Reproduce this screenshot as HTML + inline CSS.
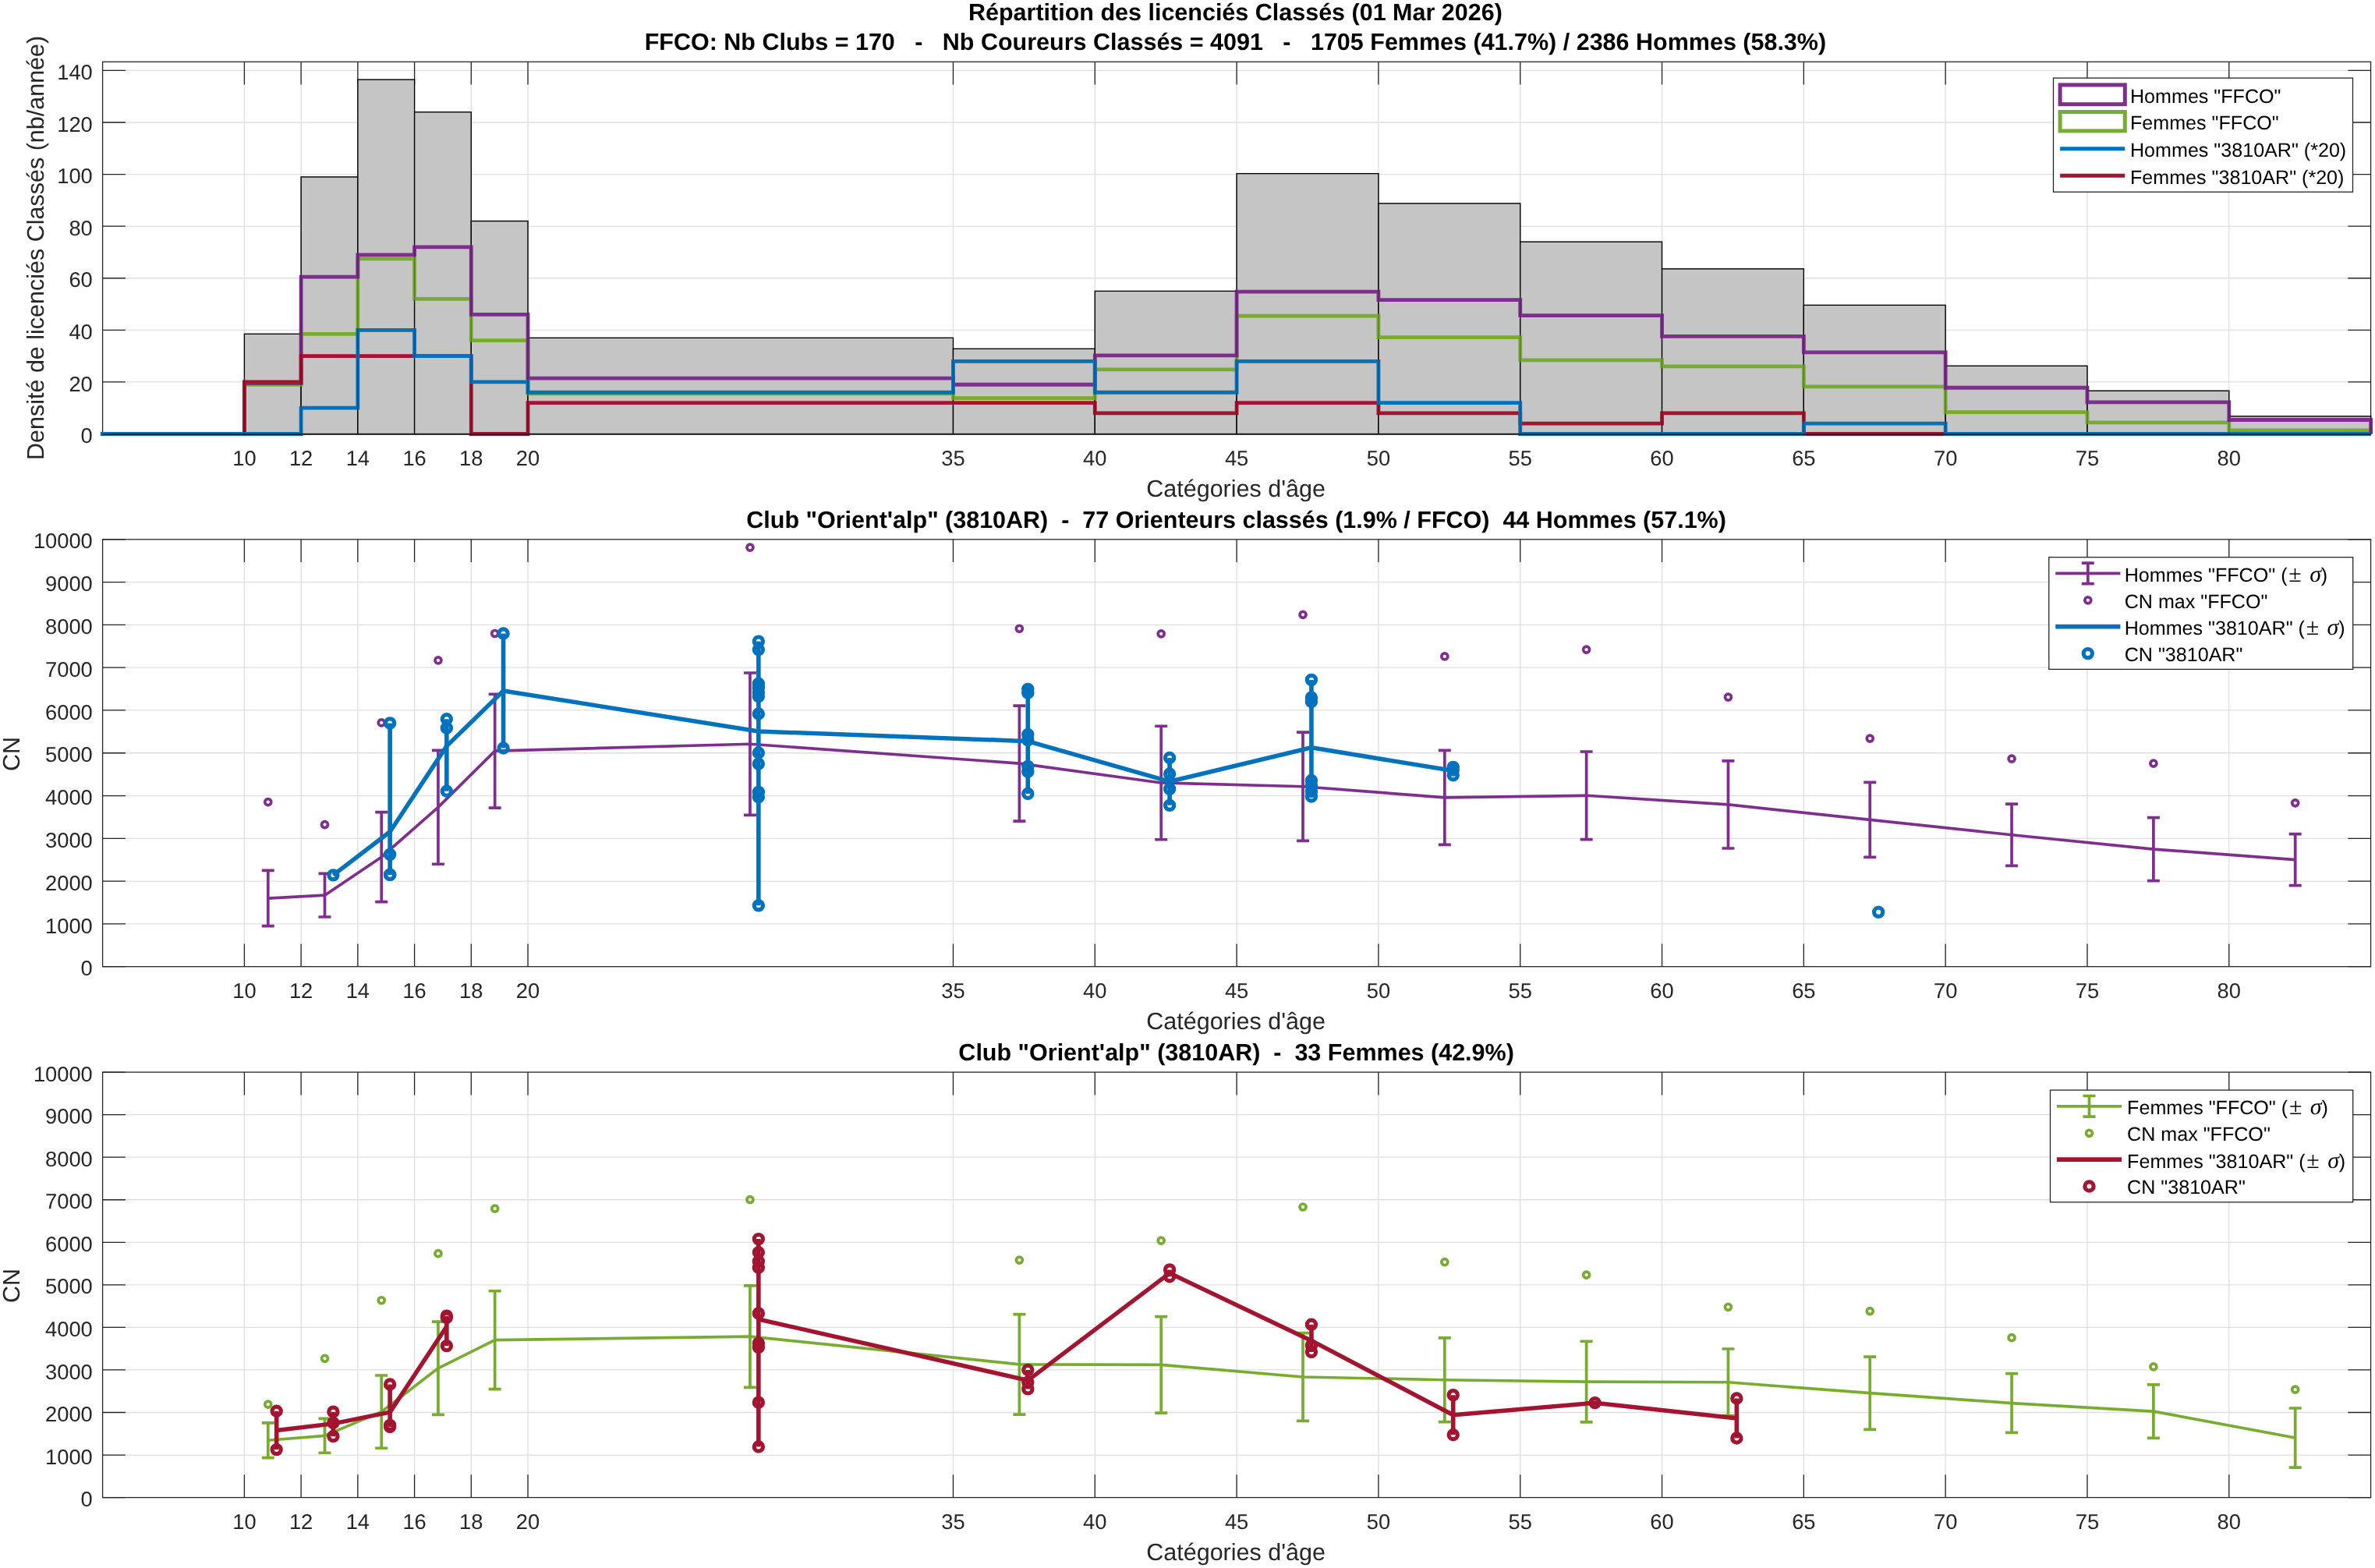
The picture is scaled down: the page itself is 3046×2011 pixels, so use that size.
<!DOCTYPE html>
<html><head><meta charset="utf-8"><title>Répartition des licenciés Classés</title>
<style>html,body{margin:0;padding:0;background:#fff}svg{display:block;font-family:"Liberation Sans",sans-serif;will-change:transform;text-rendering:geometricPrecision}</style>
</head><body>
<svg width="3046" height="2011" viewBox="0 0 3046 2011">
<rect width="3046" height="2011" fill="#fff"/>
<!-- plot 1 -->
<path d="M313.41 79.3V556.5M386.14 79.3V556.5M458.86 79.3V556.5M531.59 79.3V556.5M604.31 79.3V556.5M677.04 79.3V556.5M1222.47 79.3V556.5M1404.29 79.3V556.5M1586.1 79.3V556.5M1767.91 79.3V556.5M1949.72 79.3V556.5M2131.54 79.3V556.5M2313.35 79.3V556.5M2495.16 79.3V556.5M2676.97 79.3V556.5M2858.79 79.3V556.5M131.6 489.92H3040.6M131.6 423.34H3040.6M131.6 356.76H3040.6M131.6 290.18H3040.6M131.6 223.6H3040.6M131.6 157.02H3040.6M131.6 90.44H3040.6" stroke="#dfdfdf" stroke-width="1.3" fill="none"/>
<path d="M313.41 556.5v-29.3M313.41 79.3v29.3M386.14 556.5v-29.3M386.14 79.3v29.3M458.86 556.5v-29.3M458.86 79.3v29.3M531.59 556.5v-29.3M531.59 79.3v29.3M604.31 556.5v-29.3M604.31 79.3v29.3M677.04 556.5v-29.3M677.04 79.3v29.3M1222.47 556.5v-29.3M1222.47 79.3v29.3M1404.29 556.5v-29.3M1404.29 79.3v29.3M1586.1 556.5v-29.3M1586.1 79.3v29.3M1767.91 556.5v-29.3M1767.91 79.3v29.3M1949.72 556.5v-29.3M1949.72 79.3v29.3M2131.54 556.5v-29.3M2131.54 79.3v29.3M2313.35 556.5v-29.3M2313.35 79.3v29.3M2495.16 556.5v-29.3M2495.16 79.3v29.3M2676.97 556.5v-29.3M2676.97 79.3v29.3M2858.79 556.5v-29.3M2858.79 79.3v29.3M131.6 556.5h29.3M3040.6 556.5h-29.3M131.6 489.92h29.3M3040.6 489.92h-29.3M131.6 423.34h29.3M3040.6 423.34h-29.3M131.6 356.76h29.3M3040.6 356.76h-29.3M131.6 290.18h29.3M3040.6 290.18h-29.3M131.6 223.6h29.3M3040.6 223.6h-29.3M131.6 157.02h29.3M3040.6 157.02h-29.3M131.6 90.44h29.3M3040.6 90.44h-29.3" stroke="#262626" stroke-width="1.3" fill="none"/>
<rect x="131.6" y="79.3" width="2909" height="477.2" stroke="#262626" stroke-width="1.3" fill="none"/>
<rect x="313.41" y="428.33" width="72.72" height="128.17" fill="#c5c5c5" stroke="#000" stroke-width="1.3"/>
<rect x="386.14" y="226.93" width="72.72" height="329.57" fill="#c5c5c5" stroke="#000" stroke-width="1.3"/>
<rect x="458.86" y="102.09" width="72.73" height="454.41" fill="#c5c5c5" stroke="#000" stroke-width="1.3"/>
<rect x="531.59" y="143.7" width="72.73" height="412.8" fill="#c5c5c5" stroke="#000" stroke-width="1.3"/>
<rect x="604.31" y="283.52" width="72.73" height="272.98" fill="#c5c5c5" stroke="#000" stroke-width="1.3"/>
<rect x="677.04" y="433.33" width="545.44" height="123.17" fill="#c5c5c5" stroke="#000" stroke-width="1.3"/>
<rect x="1222.47" y="447.31" width="181.81" height="109.19" fill="#c5c5c5" stroke="#000" stroke-width="1.3"/>
<rect x="1404.29" y="373.4" width="181.81" height="183.1" fill="#c5c5c5" stroke="#000" stroke-width="1.3"/>
<rect x="1586.1" y="222.6" width="181.81" height="333.9" fill="#c5c5c5" stroke="#000" stroke-width="1.3"/>
<rect x="1767.91" y="260.88" width="181.81" height="295.62" fill="#c5c5c5" stroke="#000" stroke-width="1.3"/>
<rect x="1949.72" y="310.15" width="181.81" height="246.35" fill="#c5c5c5" stroke="#000" stroke-width="1.3"/>
<rect x="2131.54" y="344.78" width="181.81" height="211.72" fill="#c5c5c5" stroke="#000" stroke-width="1.3"/>
<rect x="2313.35" y="391.38" width="181.81" height="165.12" fill="#c5c5c5" stroke="#000" stroke-width="1.3"/>
<rect x="2495.16" y="469.28" width="181.81" height="87.22" fill="#c5c5c5" stroke="#000" stroke-width="1.3"/>
<rect x="2676.97" y="501.24" width="181.81" height="55.26" fill="#c5c5c5" stroke="#000" stroke-width="1.3"/>
<rect x="2858.79" y="533.86" width="181.81" height="22.64" fill="#c5c5c5" stroke="#000" stroke-width="1.3"/>
<path d="M129.2 556.5H313.41V493.25H386.14V428.33H458.86V331.79H531.59V383.39H604.31V436.66H677.04V504.8H1222.47V510.56H1404.29V473.94H1586.1V405.03H1767.91V432.66H1949.72V461.96H2131.54V469.95H2313.35V495.91H2495.16V528.54H2676.97V541.85H2858.79V551.84H3040.6V556.5" stroke="#77AC30" stroke-width="4.8" fill="none" stroke-linejoin="miter" stroke-linecap="butt"/>
<path d="M129.2 556.5H313.41V491.58H386.14V355.1H458.86V326.8H531.59V316.81H604.31V403.37H677.04V485.03H1222.47V493.25H1404.29V455.96H1586.1V374.07H1767.91V384.72H1949.72V404.7H2131.54V431.33H2313.35V451.97H2495.16V497.24H2676.97V515.89H2858.79V538.52H3040.6V556.5" stroke="#7E2F8E" stroke-width="4.8" fill="none" stroke-linejoin="miter" stroke-linecap="butt"/>
<path d="M129.2 556.5H313.41V489.92H386.14V456.63H458.86V456.63H531.59V456.63H604.31V556.5H677.04V516.55H1222.47V516.55H1404.29V529.87H1586.1V516.55H1767.91V529.87H1949.72V543.18H2131.54V529.87H2313.35V556.5H2495.16V556.5H2676.97V556.5H2858.79V556.5H3040.6V556.5" stroke="#A2142F" stroke-width="4.8" fill="none" stroke-linejoin="miter" stroke-linecap="butt"/>
<path d="M129.2 556.5H313.41V556.5H386.14V523.21H458.86V423.34H531.59V456.63H604.31V489.92H677.04V503.24H1222.47V463.29H1404.29V503.24H1586.1V463.29H1767.91V516.55H1949.72V556.5H2131.54V556.5H2313.35V543.18H2495.16V556.5H2676.97V556.5H2858.79V556.5H3040.6V556.5" stroke="#0072BD" stroke-width="4.8" fill="none" stroke-linejoin="miter" stroke-linecap="butt"/>
<path d="M313.41 556.5V428.33H386.14V556.5M386.14 556.5V226.93H458.86V556.5M458.86 556.5V102.09H531.59V556.5M531.59 556.5V143.7H604.31V556.5M604.31 556.5V283.52H677.04V556.5M677.04 556.5V433.33H1222.47V556.5M1222.47 556.5V447.31H1404.29V556.5M1404.29 556.5V373.4H1586.1V556.5M1586.1 556.5V222.6H1767.91V556.5M1767.91 556.5V260.88H1949.72V556.5M1949.72 556.5V310.15H2131.54V556.5M2131.54 556.5V344.78H2313.35V556.5M2313.35 556.5V391.38H2495.16V556.5M2495.16 556.5V469.28H2676.97V556.5M2676.97 556.5V501.24H2858.79V556.5M2858.79 556.5V533.86H3040.6V556.5" fill="none" stroke="#000" stroke-width="1.3" opacity="0.3"/>
<path d="M131.6 556.9H3040.6" stroke="#1a1a1a" stroke-width="2" opacity="0.75"/>
<g font-size="27.3" fill="#262626">
<text x="313.41" y="597" text-anchor="middle">10</text>
<text x="386.14" y="597" text-anchor="middle">12</text>
<text x="458.86" y="597" text-anchor="middle">14</text>
<text x="531.59" y="597" text-anchor="middle">16</text>
<text x="604.31" y="597" text-anchor="middle">18</text>
<text x="677.04" y="597" text-anchor="middle">20</text>
<text x="1222.47" y="597" text-anchor="middle">35</text>
<text x="1404.29" y="597" text-anchor="middle">40</text>
<text x="1586.1" y="597" text-anchor="middle">45</text>
<text x="1767.91" y="597" text-anchor="middle">50</text>
<text x="1949.72" y="597" text-anchor="middle">55</text>
<text x="2131.54" y="597" text-anchor="middle">60</text>
<text x="2313.35" y="597" text-anchor="middle">65</text>
<text x="2495.16" y="597" text-anchor="middle">70</text>
<text x="2676.97" y="597" text-anchor="middle">75</text>
<text x="2858.79" y="597" text-anchor="middle">80</text>
<text x="118.8" y="568.1" text-anchor="end">0</text>
<text x="118.8" y="501.52" text-anchor="end">20</text>
<text x="118.8" y="434.94" text-anchor="end">40</text>
<text x="118.8" y="368.36" text-anchor="end">60</text>
<text x="118.8" y="301.78" text-anchor="end">80</text>
<text x="118.8" y="235.2" text-anchor="end">100</text>
<text x="118.8" y="168.62" text-anchor="end">120</text>
<text x="118.8" y="102.04" text-anchor="end">140</text>
</g>
<text x="1585.1" y="637" text-anchor="middle" font-size="30.5" fill="#262626">Catégories d'âge</text>
<text transform="translate(56.3 317.9) rotate(-90)" text-anchor="middle" font-size="30.5" fill="#262626">Densité de licenciés Classés (nb/année)</text>
<g font-size="30.5" font-weight="bold" fill="#000" text-anchor="middle">
<text x="1586.1" y="26.3" dx="-1.7">Répartition des licenciés Classés (01 Mar 2026)</text>
<text x="1586.1" y="64.2" dx="-1.7" xml:space="preserve">FFCO: Nb Clubs = 170   -   Nb Coureurs Classés = 4091   -   1705 Femmes (41.7%) / 2386 Hommes (58.3%)</text>
<text x="1586.1" y="677" dx="-0.5" xml:space="preserve">Club "Orient'alp" (3810AR)  -  77 Orienteurs classés (1.9% / FFCO)  44 Hommes (57.1%)</text>
<text x="1586.1" y="1360.4" dx="-0.5" xml:space="preserve">Club "Orient'alp" (3810AR)  -  33 Femmes (42.9%)</text>
</g>
<rect x="2633.5" y="100.1" width="384" height="146.1" fill="#fff" stroke="#262626" stroke-width="1.3"/>
<rect x="2642.1" y="108.9" width="83.2" height="24.8" fill="none" stroke="#7E2F8E" stroke-width="5"/>
<rect x="2642.1" y="143.5" width="83.2" height="24.4" fill="none" stroke="#77AC30" stroke-width="5"/>
<path d="M2642.1 190.7H2725.3" stroke="#0072BD" stroke-width="5"/>
<path d="M2642.1 225.2H2725.3" stroke="#A2142F" stroke-width="5"/>
<g font-size="25.1" fill="#000">
<text x="2732" y="131.8">Hommes "FFCO"</text>
<text x="2732" y="165.7">Femmes "FFCO"</text>
<text x="2732" y="200.9">Hommes "3810AR" (*20)</text>
<text x="2732" y="235.6">Femmes "3810AR" (*20)</text>
</g>
<!-- plot 2 -->
<path d="M313.41 691.8V1239.7M386.14 691.8V1239.7M458.86 691.8V1239.7M531.59 691.8V1239.7M604.31 691.8V1239.7M677.04 691.8V1239.7M1222.47 691.8V1239.7M1404.29 691.8V1239.7M1586.1 691.8V1239.7M1767.91 691.8V1239.7M1949.72 691.8V1239.7M2131.54 691.8V1239.7M2313.35 691.8V1239.7M2495.16 691.8V1239.7M2676.97 691.8V1239.7M2858.79 691.8V1239.7M131.6 1184.91H3040.6M131.6 1130.12H3040.6M131.6 1075.33H3040.6M131.6 1020.54H3040.6M131.6 965.75H3040.6M131.6 910.96H3040.6M131.6 856.17H3040.6M131.6 801.38H3040.6M131.6 746.59H3040.6" stroke="#dfdfdf" stroke-width="1.3" fill="none"/>
<path d="M313.41 1239.7v-29.3M313.41 691.8v29.3M386.14 1239.7v-29.3M386.14 691.8v29.3M458.86 1239.7v-29.3M458.86 691.8v29.3M531.59 1239.7v-29.3M531.59 691.8v29.3M604.31 1239.7v-29.3M604.31 691.8v29.3M677.04 1239.7v-29.3M677.04 691.8v29.3M1222.47 1239.7v-29.3M1222.47 691.8v29.3M1404.29 1239.7v-29.3M1404.29 691.8v29.3M1586.1 1239.7v-29.3M1586.1 691.8v29.3M1767.91 1239.7v-29.3M1767.91 691.8v29.3M1949.72 1239.7v-29.3M1949.72 691.8v29.3M2131.54 1239.7v-29.3M2131.54 691.8v29.3M2313.35 1239.7v-29.3M2313.35 691.8v29.3M2495.16 1239.7v-29.3M2495.16 691.8v29.3M2676.97 1239.7v-29.3M2676.97 691.8v29.3M2858.79 1239.7v-29.3M2858.79 691.8v29.3M131.6 1239.7h29.3M3040.6 1239.7h-29.3M131.6 1184.91h29.3M3040.6 1184.91h-29.3M131.6 1130.12h29.3M3040.6 1130.12h-29.3M131.6 1075.33h29.3M3040.6 1075.33h-29.3M131.6 1020.54h29.3M3040.6 1020.54h-29.3M131.6 965.75h29.3M3040.6 965.75h-29.3M131.6 910.96h29.3M3040.6 910.96h-29.3M131.6 856.17h29.3M3040.6 856.17h-29.3M131.6 801.38h29.3M3040.6 801.38h-29.3M131.6 746.59h29.3M3040.6 746.59h-29.3M131.6 691.8h29.3M3040.6 691.8h-29.3" stroke="#262626" stroke-width="1.3" fill="none"/>
<rect x="131.6" y="691.8" width="2909" height="547.9" stroke="#262626" stroke-width="1.3" fill="none"/>
<path d="M343.78 1152.04L416.5 1148.2L489.23 1099.16L561.95 1035.33L634.68 963.17L961.94 954.24L1307.38 979.06L1489.19 1003.99L1671.01 1008.76L1852.82 1022.84L2034.63 1020.27L2216.44 1031.94L2398.26 1051.39L2580.07 1070.78L2761.88 1089.08L2943.69 1102.62" stroke="#7E2F8E" stroke-width="3.7" fill="none" stroke-linejoin="round"/>
<path d="M343.78 1116.42V1187.65M335.78 1116.42h16M335.78 1187.65h16M416.5 1120.42V1175.98M408.5 1120.42h16M408.5 1175.98h16M489.23 1041.63V1156.69M481.23 1041.63h16M481.23 1156.69h16M561.95 962.41V1108.26M553.95 962.41h16M553.95 1108.26h16M634.68 890.25V1036.1M626.68 890.25h16M626.68 1036.1h16M961.94 863.02V1045.47M953.94 863.02h16M953.94 1045.47h16M1307.38 905.1V1053.03M1299.38 905.1h16M1299.38 1053.03h16M1489.19 931.23V1076.75M1481.19 931.23h16M1481.19 1076.75h16M1671.01 939.18V1078.34M1663.01 939.18h16M1663.01 1078.34h16M1852.82 962.3V1083.38M1844.82 962.3h16M1844.82 1083.38h16M2034.63 964V1076.54M2026.63 964h16M2026.63 1076.54h16M2216.44 975.89V1087.99M2208.44 975.89h16M2208.44 1087.99h16M2398.26 1003.34V1099.44M2390.26 1003.34h16M2390.26 1099.44h16M2580.07 1031.22V1110.34M2572.07 1031.22h16M2572.07 1110.34h16M2761.88 1048.59V1129.57M2753.88 1048.59h16M2753.88 1129.57h16M2943.69 1069.69V1135.54M2935.69 1069.69h16M2935.69 1135.54h16" stroke="#7E2F8E" stroke-width="3.7" fill="none"/>
<g stroke="#7E2F8E" stroke-width="3.7" fill="none">
<circle cx="343.78" cy="1028.7" r="4.0"/>
<circle cx="416.5" cy="1057.58" r="4.0"/>
<circle cx="489.23" cy="926.9" r="4.0"/>
<circle cx="561.95" cy="846.91" r="4.0"/>
<circle cx="634.68" cy="812.5" r="4.0"/>
<circle cx="961.94" cy="702.16" r="4.0"/>
<circle cx="1307.38" cy="806.26" r="4.0"/>
<circle cx="1489.19" cy="812.83" r="4.0"/>
<circle cx="1671.01" cy="788.34" r="4.0"/>
<circle cx="1852.82" cy="841.92" r="4.0"/>
<circle cx="2034.63" cy="833.21" r="4.0"/>
<circle cx="2216.44" cy="894.03" r="4.0"/>
<circle cx="2398.26" cy="947.07" r="4.0"/>
<circle cx="2580.07" cy="973.15" r="4.0"/>
<circle cx="2761.88" cy="979.12" r="4.0"/>
<circle cx="2943.69" cy="1029.85" r="4.0"/>
</g>
<path d="M427.41 1122.34L500.13 1066.77L572.86 956.89L645.58 885.98L972.85 937.99L1318.29 950.63L1500.1 1002.29L1681.92 958.78L1863.73 988.58" stroke="#0072BD" stroke-width="5.5" fill="none" stroke-linejoin="round"/>
<path d="M500.13 927.4V1121.9M572.86 922.19V1014.79M645.58 812.5V959.45M972.85 822.58V1161.35M1318.29 883.84V1017.96M1500.1 972.05V1032.87M1681.92 871.89V1021.53M1863.73 983.83V994.24" stroke="#0072BD" stroke-width="5.6" fill="none"/>
<g stroke="#0072BD" stroke-width="5.2" fill="none">
<circle cx="427.41" cy="1122.34" r="5.6"/>
<circle cx="500.13" cy="927.4" r="5.6"/>
<circle cx="500.13" cy="1095.88" r="5.6"/>
<circle cx="500.13" cy="1121.9" r="5.6"/>
<circle cx="500.13" cy="1121.9" r="5.6"/>
<circle cx="572.86" cy="922.19" r="5.6"/>
<circle cx="572.86" cy="933.7" r="5.6"/>
<circle cx="572.86" cy="1014.79" r="5.6"/>
<circle cx="645.58" cy="812.5" r="5.6"/>
<circle cx="645.58" cy="959.45" r="5.6"/>
<circle cx="972.85" cy="822.58" r="5.6"/>
<circle cx="972.85" cy="833.27" r="5.6"/>
<circle cx="972.85" cy="876.72" r="5.6"/>
<circle cx="972.85" cy="881.81" r="5.6"/>
<circle cx="972.85" cy="888.17" r="5.6"/>
<circle cx="972.85" cy="893.32" r="5.6"/>
<circle cx="972.85" cy="915.51" r="5.6"/>
<circle cx="972.85" cy="965.53" r="5.6"/>
<circle cx="972.85" cy="979.61" r="5.6"/>
<circle cx="972.85" cy="1015.83" r="5.6"/>
<circle cx="972.85" cy="1022.24" r="5.6"/>
<circle cx="972.85" cy="1161.35" r="5.6"/>
<circle cx="1318.29" cy="883.84" r="5.6"/>
<circle cx="1318.29" cy="888.77" r="5.6"/>
<circle cx="1318.29" cy="942.03" r="5.6"/>
<circle cx="1318.29" cy="949.15" r="5.6"/>
<circle cx="1318.29" cy="982.84" r="5.6"/>
<circle cx="1318.29" cy="989.8" r="5.6"/>
<circle cx="1318.29" cy="1017.96" r="5.6"/>
<circle cx="1500.1" cy="972.05" r="5.6"/>
<circle cx="1500.1" cy="992.43" r="5.6"/>
<circle cx="1500.1" cy="1011.83" r="5.6"/>
<circle cx="1500.1" cy="1032.87" r="5.6"/>
<circle cx="1681.92" cy="871.89" r="5.6"/>
<circle cx="1681.92" cy="894.63" r="5.6"/>
<circle cx="1681.92" cy="900.06" r="5.6"/>
<circle cx="1681.92" cy="1000.93" r="5.6"/>
<circle cx="1681.92" cy="1007.39" r="5.6"/>
<circle cx="1681.92" cy="1015.06" r="5.6"/>
<circle cx="1681.92" cy="1021.53" r="5.6"/>
<circle cx="1863.73" cy="983.83" r="5.6"/>
<circle cx="1863.73" cy="987.67" r="5.6"/>
<circle cx="1863.73" cy="994.24" r="5.6"/>
<circle cx="2409.17" cy="1169.84" r="5.6"/>
</g>
<g font-size="27.3" fill="#262626">
<text x="313.41" y="1280.2" text-anchor="middle">10</text>
<text x="386.14" y="1280.2" text-anchor="middle">12</text>
<text x="458.86" y="1280.2" text-anchor="middle">14</text>
<text x="531.59" y="1280.2" text-anchor="middle">16</text>
<text x="604.31" y="1280.2" text-anchor="middle">18</text>
<text x="677.04" y="1280.2" text-anchor="middle">20</text>
<text x="1222.47" y="1280.2" text-anchor="middle">35</text>
<text x="1404.29" y="1280.2" text-anchor="middle">40</text>
<text x="1586.1" y="1280.2" text-anchor="middle">45</text>
<text x="1767.91" y="1280.2" text-anchor="middle">50</text>
<text x="1949.72" y="1280.2" text-anchor="middle">55</text>
<text x="2131.54" y="1280.2" text-anchor="middle">60</text>
<text x="2313.35" y="1280.2" text-anchor="middle">65</text>
<text x="2495.16" y="1280.2" text-anchor="middle">70</text>
<text x="2676.97" y="1280.2" text-anchor="middle">75</text>
<text x="2858.79" y="1280.2" text-anchor="middle">80</text>
<text x="118.8" y="1251.3" text-anchor="end">0</text>
<text x="118.8" y="1196.51" text-anchor="end">1000</text>
<text x="118.8" y="1141.72" text-anchor="end">2000</text>
<text x="118.8" y="1086.93" text-anchor="end">3000</text>
<text x="118.8" y="1032.14" text-anchor="end">4000</text>
<text x="118.8" y="977.35" text-anchor="end">5000</text>
<text x="118.8" y="922.56" text-anchor="end">6000</text>
<text x="118.8" y="867.77" text-anchor="end">7000</text>
<text x="118.8" y="812.98" text-anchor="end">8000</text>
<text x="118.8" y="758.19" text-anchor="end">9000</text>
<text x="118.8" y="703.4" text-anchor="end">10000</text>
</g>
<text x="1585.1" y="1320.2" text-anchor="middle" font-size="30.5" fill="#262626">Catégories d'âge</text>
<text transform="translate(24.9 966.95) rotate(-90)" text-anchor="middle" font-size="30.5" fill="#262626">CN</text>
<rect x="2627.8" y="714.7" width="389.9" height="143.7" fill="#fff" stroke="#262626" stroke-width="1.3"/>
<path d="M2636.2 735.4H2719.4M2677.8 722.1V748.7M2669.8 722.1h16M2669.8 748.7h16" stroke="#7E2F8E" stroke-width="3.7" fill="none"/>
<circle cx="2677.8" cy="769.8" r="4.0" stroke="#7E2F8E" stroke-width="3.7" fill="none"/>
<path d="M2636.2 803.6H2719.4" stroke="#0072BD" stroke-width="5.6"/>
<circle cx="2677.8" cy="838.1" r="5.6" stroke="#0072BD" stroke-width="5.2" fill="none"/>
<g font-size="25.1" fill="#000">
<text x="2724.7" y="745.7">Hommes "FFCO" (</text>
<text x="2935.34" y="745.7" font-family="Liberation Serif,serif" font-size="30">±</text>
<text x="2962.14" y="745.7" font-family="Liberation Serif,serif" font-style="italic" font-size="30">σ</text>
<text x="2976.84" y="745.7">)</text>
<text x="2724.7" y="779.9">CN max "FFCO"</text>
<text x="2724.7" y="814.1">Hommes "3810AR" (</text>
<text x="2957.73" y="814.1" font-family="Liberation Serif,serif" font-size="30">±</text>
<text x="2984.53" y="814.1" font-family="Liberation Serif,serif" font-style="italic" font-size="30">σ</text>
<text x="2999.23" y="814.1">)</text>
<text x="2724.7" y="847.7">CN "3810AR"</text>
</g>
<!-- plot 3 -->
<path d="M313.41 1375.1V1920.6M386.14 1375.1V1920.6M458.86 1375.1V1920.6M531.59 1375.1V1920.6M604.31 1375.1V1920.6M677.04 1375.1V1920.6M1222.47 1375.1V1920.6M1404.29 1375.1V1920.6M1586.1 1375.1V1920.6M1767.91 1375.1V1920.6M1949.72 1375.1V1920.6M2131.54 1375.1V1920.6M2313.35 1375.1V1920.6M2495.16 1375.1V1920.6M2676.97 1375.1V1920.6M2858.79 1375.1V1920.6M131.6 1866.05H3040.6M131.6 1811.5H3040.6M131.6 1756.95H3040.6M131.6 1702.4H3040.6M131.6 1647.85H3040.6M131.6 1593.3H3040.6M131.6 1538.75H3040.6M131.6 1484.2H3040.6M131.6 1429.65H3040.6" stroke="#dfdfdf" stroke-width="1.3" fill="none"/>
<path d="M313.41 1920.6v-29.3M313.41 1375.1v29.3M386.14 1920.6v-29.3M386.14 1375.1v29.3M458.86 1920.6v-29.3M458.86 1375.1v29.3M531.59 1920.6v-29.3M531.59 1375.1v29.3M604.31 1920.6v-29.3M604.31 1375.1v29.3M677.04 1920.6v-29.3M677.04 1375.1v29.3M1222.47 1920.6v-29.3M1222.47 1375.1v29.3M1404.29 1920.6v-29.3M1404.29 1375.1v29.3M1586.1 1920.6v-29.3M1586.1 1375.1v29.3M1767.91 1920.6v-29.3M1767.91 1375.1v29.3M1949.72 1920.6v-29.3M1949.72 1375.1v29.3M2131.54 1920.6v-29.3M2131.54 1375.1v29.3M2313.35 1920.6v-29.3M2313.35 1375.1v29.3M2495.16 1920.6v-29.3M2495.16 1375.1v29.3M2676.97 1920.6v-29.3M2676.97 1375.1v29.3M2858.79 1920.6v-29.3M2858.79 1375.1v29.3M131.6 1920.6h29.3M3040.6 1920.6h-29.3M131.6 1866.05h29.3M3040.6 1866.05h-29.3M131.6 1811.5h29.3M3040.6 1811.5h-29.3M131.6 1756.95h29.3M3040.6 1756.95h-29.3M131.6 1702.4h29.3M3040.6 1702.4h-29.3M131.6 1647.85h29.3M3040.6 1647.85h-29.3M131.6 1593.3h29.3M3040.6 1593.3h-29.3M131.6 1538.75h29.3M3040.6 1538.75h-29.3M131.6 1484.2h29.3M3040.6 1484.2h-29.3M131.6 1429.65h29.3M3040.6 1429.65h-29.3M131.6 1375.1h29.3M3040.6 1375.1h-29.3" stroke="#262626" stroke-width="1.3" fill="none"/>
<rect x="131.6" y="1375.1" width="2909" height="545.5" stroke="#262626" stroke-width="1.3" fill="none"/>
<path d="M343.78 1847.23L416.5 1841.34L489.23 1810.63L561.95 1754.82L634.68 1718.66L961.94 1714.07L1307.38 1749.8L1489.19 1750.4L1671.01 1766.01L1852.82 1769.77L2034.63 1772.06L2216.44 1772.77L2398.26 1786.68L2580.07 1799.55L2761.88 1810.08L2943.69 1844.01" stroke="#77AC30" stroke-width="3.7" fill="none" stroke-linejoin="round"/>
<path d="M343.78 1824.86V1869.6M335.78 1824.86h16M335.78 1869.6h16M416.5 1819.41V1863.27M408.5 1819.41h16M408.5 1863.27h16M489.23 1763.99V1857.27M481.23 1763.99h16M481.23 1857.27h16M561.95 1695.2V1814.45M553.95 1695.2h16M553.95 1814.45h16M634.68 1655.76V1781.55M626.68 1655.76h16M626.68 1781.55h16M961.94 1648.78V1779.37M953.94 1648.78h16M953.94 1779.37h16M1307.38 1685.54V1814.06M1299.38 1685.54h16M1299.38 1814.06h16M1489.19 1688.71V1812.1M1481.19 1688.71h16M1481.19 1812.1h16M1671.01 1709.6V1822.41M1663.01 1709.6h16M1663.01 1822.41h16M1852.82 1715.93V1823.61M1844.82 1715.93h16M1844.82 1823.61h16M2034.63 1720.24V1823.88M2026.63 1720.24h16M2026.63 1823.88h16M2216.44 1730V1815.54M2208.44 1730h16M2208.44 1815.54h16M2398.26 1740.04V1833.32M2390.26 1740.04h16M2390.26 1833.32h16M2580.07 1761.7V1837.41M2572.07 1761.7h16M2572.07 1837.41h16M2761.88 1775.82V1844.34M2753.88 1775.82h16M2753.88 1844.34h16M2943.69 1805.99V1882.03M2935.69 1805.99h16M2935.69 1882.03h16" stroke="#77AC30" stroke-width="3.7" fill="none"/>
<g stroke="#77AC30" stroke-width="3.7" fill="none">
<circle cx="343.78" cy="1801.03" r="4.0"/>
<circle cx="416.5" cy="1742.33" r="4.0"/>
<circle cx="489.23" cy="1667.76" r="4.0"/>
<circle cx="561.95" cy="1607.7" r="4.0"/>
<circle cx="634.68" cy="1550.15" r="4.0"/>
<circle cx="961.94" cy="1538.59" r="4.0"/>
<circle cx="1307.38" cy="1616.05" r="4.0"/>
<circle cx="1489.19" cy="1591.12" r="4.0"/>
<circle cx="1671.01" cy="1548.02" r="4.0"/>
<circle cx="1852.82" cy="1618.67" r="4.0"/>
<circle cx="2034.63" cy="1635.03" r="4.0"/>
<circle cx="2216.44" cy="1676.33" r="4.0"/>
<circle cx="2398.26" cy="1681.62" r="4.0"/>
<circle cx="2580.07" cy="1715.55" r="4.0"/>
<circle cx="2761.88" cy="1752.91" r="4.0"/>
<circle cx="2943.69" cy="1782.15" r="4.0"/>
</g>
<path d="M354.68 1834.44L427.41 1825.88L500.13 1811.14L572.86 1701.22M972.85 1692.01L1318.29 1770.39L1500.1 1632.85L1681.92 1719.4L1863.73 1814.69L2045.54 1799.17L2227.35 1819" stroke="#A2142F" stroke-width="5.5" fill="none" stroke-linejoin="round"/>
<path d="M354.68 1809.75V1859.12M427.41 1810.63V1842.16M500.13 1775.5V1830.05M572.86 1687.67V1726.13M972.85 1589.1V1855.47M1318.29 1757V1781.39M1500.1 1628.38V1637.32M1681.92 1698.75V1734.04M1863.73 1789.13V1840.25M2227.35 1793.44V1844.56" stroke="#A2142F" stroke-width="5.6" fill="none"/>
<g stroke="#A2142F" stroke-width="5.2" fill="none">
<circle cx="354.68" cy="1809.75" r="5.6"/>
<circle cx="354.68" cy="1859.12" r="5.6"/>
<circle cx="427.41" cy="1810.63" r="5.6"/>
<circle cx="427.41" cy="1824.86" r="5.6"/>
<circle cx="427.41" cy="1842.16" r="5.6"/>
<circle cx="500.13" cy="1775.5" r="5.6"/>
<circle cx="500.13" cy="1827.87" r="5.6"/>
<circle cx="500.13" cy="1830.05" r="5.6"/>
<circle cx="572.86" cy="1687.67" r="5.6"/>
<circle cx="572.86" cy="1689.85" r="5.6"/>
<circle cx="572.86" cy="1726.13" r="5.6"/>
<circle cx="972.85" cy="1589.1" r="5.6"/>
<circle cx="972.85" cy="1606.28" r="5.6"/>
<circle cx="972.85" cy="1617.79" r="5.6"/>
<circle cx="972.85" cy="1625.81" r="5.6"/>
<circle cx="972.85" cy="1684.4" r="5.6"/>
<circle cx="972.85" cy="1722.58" r="5.6"/>
<circle cx="972.85" cy="1728.04" r="5.6"/>
<circle cx="972.85" cy="1798.63" r="5.6"/>
<circle cx="972.85" cy="1855.47" r="5.6"/>
<circle cx="1318.29" cy="1757" r="5.6"/>
<circle cx="1318.29" cy="1772.77" r="5.6"/>
<circle cx="1318.29" cy="1781.39" r="5.6"/>
<circle cx="1500.1" cy="1628.38" r="5.6"/>
<circle cx="1500.1" cy="1637.32" r="5.6"/>
<circle cx="1681.92" cy="1698.75" r="5.6"/>
<circle cx="1681.92" cy="1725.42" r="5.6"/>
<circle cx="1681.92" cy="1734.04" r="5.6"/>
<circle cx="1863.73" cy="1789.13" r="5.6"/>
<circle cx="1863.73" cy="1840.25" r="5.6"/>
<circle cx="2045.54" cy="1799.17" r="5.6"/>
<circle cx="2227.35" cy="1793.44" r="5.6"/>
<circle cx="2227.35" cy="1844.56" r="5.6"/>
</g>
<g font-size="27.3" fill="#262626">
<text x="313.41" y="1961.1" text-anchor="middle">10</text>
<text x="386.14" y="1961.1" text-anchor="middle">12</text>
<text x="458.86" y="1961.1" text-anchor="middle">14</text>
<text x="531.59" y="1961.1" text-anchor="middle">16</text>
<text x="604.31" y="1961.1" text-anchor="middle">18</text>
<text x="677.04" y="1961.1" text-anchor="middle">20</text>
<text x="1222.47" y="1961.1" text-anchor="middle">35</text>
<text x="1404.29" y="1961.1" text-anchor="middle">40</text>
<text x="1586.1" y="1961.1" text-anchor="middle">45</text>
<text x="1767.91" y="1961.1" text-anchor="middle">50</text>
<text x="1949.72" y="1961.1" text-anchor="middle">55</text>
<text x="2131.54" y="1961.1" text-anchor="middle">60</text>
<text x="2313.35" y="1961.1" text-anchor="middle">65</text>
<text x="2495.16" y="1961.1" text-anchor="middle">70</text>
<text x="2676.97" y="1961.1" text-anchor="middle">75</text>
<text x="2858.79" y="1961.1" text-anchor="middle">80</text>
<text x="118.8" y="1932.2" text-anchor="end">0</text>
<text x="118.8" y="1877.65" text-anchor="end">1000</text>
<text x="118.8" y="1823.1" text-anchor="end">2000</text>
<text x="118.8" y="1768.55" text-anchor="end">3000</text>
<text x="118.8" y="1714" text-anchor="end">4000</text>
<text x="118.8" y="1659.45" text-anchor="end">5000</text>
<text x="118.8" y="1604.9" text-anchor="end">6000</text>
<text x="118.8" y="1550.35" text-anchor="end">7000</text>
<text x="118.8" y="1495.8" text-anchor="end">8000</text>
<text x="118.8" y="1441.25" text-anchor="end">9000</text>
<text x="118.8" y="1386.7" text-anchor="end">10000</text>
</g>
<text x="1585.1" y="2001.1" text-anchor="middle" font-size="30.5" fill="#262626">Catégories d'âge</text>
<text transform="translate(24.9 1649.05) rotate(-90)" text-anchor="middle" font-size="30.5" fill="#262626">CN</text>
<rect x="2629.5" y="1398.1" width="388.2" height="143.7" fill="#fff" stroke="#262626" stroke-width="1.3"/>
<path d="M2637.9 1418.8H2721.1M2679.5 1405.5V1432.1M2671.5 1405.5h16M2671.5 1432.1h16" stroke="#77AC30" stroke-width="3.7" fill="none"/>
<circle cx="2679.5" cy="1453.3" r="4.0" stroke="#77AC30" stroke-width="3.7" fill="none"/>
<path d="M2637.9 1487.1H2721.1" stroke="#A2142F" stroke-width="5.6"/>
<circle cx="2679.5" cy="1521.5" r="5.6" stroke="#A2142F" stroke-width="5.2" fill="none"/>
<g font-size="25.1" fill="#000">
<text x="2728.1" y="1429.1">Femmes "FFCO" (</text>
<text x="2935.95" y="1429.1" font-family="Liberation Serif,serif" font-size="30">±</text>
<text x="2962.75" y="1429.1" font-family="Liberation Serif,serif" font-style="italic" font-size="30">σ</text>
<text x="2977.45" y="1429.1">)</text>
<text x="2728.1" y="1463.4">CN max "FFCO"</text>
<text x="2728.1" y="1497.6">Femmes "3810AR" (</text>
<text x="2958.34" y="1497.6" font-family="Liberation Serif,serif" font-size="30">±</text>
<text x="2985.14" y="1497.6" font-family="Liberation Serif,serif" font-style="italic" font-size="30">σ</text>
<text x="2999.84" y="1497.6">)</text>
<text x="2728.1" y="1531.1">CN "3810AR"</text>
</g>
</svg>
</body></html>
